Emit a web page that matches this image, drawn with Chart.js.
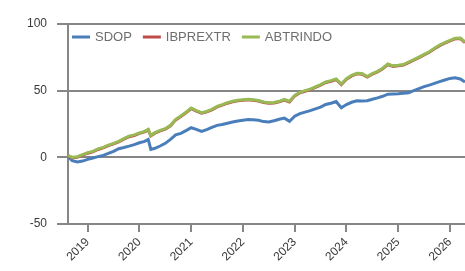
<!DOCTYPE html>
<html>
<head>
<meta charset="utf-8">
<script src="https://cdn.jsdelivr.net/npm/chart.js@4.4.1/dist/chart.umd.min.js"></script>
<style>
  body { margin: 0; background: #fff; }
  #chart { display: block; }
</style>
</head>
<body>
<canvas id="chart" width="465" height="271"></canvas>
<script>
// dates as fractional years
const dates = [2018.62, 2018.7, 2018.8, 2018.9,
  2019.0, 2019.1, 2019.2, 2019.3, 2019.4, 2019.5, 2019.6, 2019.7, 2019.8, 2019.9,
  2020.0, 2020.1, 2020.17, 2020.22, 2020.3, 2020.4, 2020.5, 2020.6, 2020.7, 2020.8, 2020.9,
  2021.0, 2021.1, 2021.2, 2021.3, 2021.4, 2021.5, 2021.6, 2021.7, 2021.8, 2021.9,
  2022.0, 2022.1, 2022.2, 2022.3, 2022.4, 2022.5, 2022.6, 2022.7, 2022.8, 2022.9,
  2023.0, 2023.1, 2023.2, 2023.3, 2023.4, 2023.5, 2023.6, 2023.7, 2023.8, 2023.9,
  2024.0, 2024.1, 2024.2, 2024.3, 2024.4, 2024.5, 2024.6, 2024.7, 2024.8, 2024.9,
  2025.0, 2025.1, 2025.2, 2025.3, 2025.4, 2025.5, 2025.6, 2025.7, 2025.8, 2025.9,
  2026.0, 2026.1, 2026.2, 2026.29];

const sdop = [0.5, -2.5, -3.5, -2.8,
  -1.5, -0.5, 0.5, 1.5, 3.0, 4.5, 6.5, 7.4, 8.4, 9.5,
  10.9, 12.0, 13.4, 6.0, 6.8, 8.5, 10.5, 13.5, 16.8, 18.0, 20.0,
  22.2, 21.0, 19.4, 20.8, 22.5, 24.0, 24.6, 25.6, 26.5, 27.2,
  27.8, 28.3, 28.2, 27.8, 26.8, 26.5, 27.4, 28.6, 29.4, 27.0,
  30.8, 32.8, 33.9, 35.0, 36.4, 37.6, 39.6, 40.6, 41.9, 37.2,
  39.6, 41.3, 42.4, 42.2, 42.4, 43.6, 44.6, 45.8, 47.4, 47.5,
  47.6, 48.0, 48.4, 50.0, 51.6, 53.0, 54.2, 55.5, 56.8, 58.0,
  59.2, 59.6, 58.8, 56.5];

const ibprextr = [1.1, -0.4, 0.1, 1.6,
  3.1, 4.1, 5.9, 7.1, 8.8, 10.1, 11.6, 13.6, 15.5, 16.4,
  18.0, 19.1, 20.6, 16.1, 18.1, 19.8, 21.1, 23.6, 28.1, 30.6, 33.4,
  36.5, 34.6, 33.1, 34.1, 35.6, 37.8, 39.1, 40.6, 41.6, 42.4,
  42.8, 43.1, 42.8, 42.2, 41.1, 40.6, 40.8, 41.6, 43.0, 41.6,
  46.1, 48.4, 49.6, 50.8, 52.4, 54.1, 56.1, 57.1, 58.4, 54.6,
  58.6, 61.1, 62.6, 62.4, 60.2, 62.4, 64.1, 66.4, 69.6, 68.2,
  68.6, 69.2, 71.1, 72.9, 74.8, 76.8, 78.8, 81.4, 83.8, 85.6,
  87.4, 88.9, 89.1, 86.1];

const abtrindo = [1.5, 0.0, 0.5, 2.0,
  3.5, 4.5, 6.3, 7.5, 9.2, 10.5, 12.0, 14.0, 15.9, 16.8,
  18.4, 19.5, 21.0, 16.5, 18.5, 20.2, 21.5, 24.0, 28.5, 31.0, 33.8,
  36.9, 35.0, 33.5, 34.5, 36.0, 38.2, 39.5, 41.0, 42.0, 42.8,
  43.2, 43.5, 43.2, 42.6, 41.5, 41.0, 41.2, 42.0, 43.4, 42.0,
  46.5, 48.8, 50.0, 51.2, 52.8, 54.5, 56.5, 57.5, 58.8, 55.0,
  59.0, 61.5, 63.0, 62.8, 60.6, 62.8, 64.5, 66.8, 70.0, 68.6,
  69.0, 69.6, 71.5, 73.3, 75.2, 77.2, 79.2, 81.8, 84.2, 86.0,
  87.8, 89.3, 89.5, 86.5];

const years = [2019, 2020, 2021, 2022, 2023, 2024, 2025, 2026];
const yTicks = [-50, 0, 50, 100];

const gridGray = '#868686';
const labelFont = { family: 'Liberation Sans, Arial, sans-serif', size: 12 };

function series(values) {
  return values.map((v, i) => ({ x: dates[i], y: v }));
}

// legend drawn inside the plot, top left
const insideLegend = {
  id: 'insideLegend',
  afterDraw(chart) {
    const ctx = chart.ctx;
    const area = chart.chartArea;
    ctx.save();
    ctx.font = '13px Liberation Sans, Arial, sans-serif';
    ctx.textBaseline = 'middle';
    let x = area.left + 4;
    const y = area.top + 13;
    chart.data.datasets.forEach(ds => {
      ctx.fillStyle = ds.borderColor;
      ctx.fillRect(x, y - 1.5, 18, 3);
      x += 23;
      ctx.fillStyle = '#6e6e6e';
      ctx.fillText(ds.label, x, y);
      x += ctx.measureText(ds.label).width + 11;
    });
    ctx.restore();
  }
};

new Chart(document.getElementById('chart'), {
  type: 'line',
  data: {
    datasets: [
      { label: 'SDOP', data: series(sdop), borderColor: '#4a7ebb', order: 2 },
      { label: 'IBPREXTR', data: series(ibprextr), borderColor: '#be4b48', order: 1 },
      { label: 'ABTRINDO', data: series(abtrindo), borderColor: '#98b954', order: 0 }
    ]
  },
  options: {
    responsive: false,
    animation: false,
    layout: { padding: { left: 0, top: 24, right: 0, bottom: 0 } },
    elements: {
      line: { borderWidth: 3, tension: 0 },
      point: { radius: 0 }
    },
    plugins: {
      legend: { display: false },
      tooltip: { enabled: false }
    },
    scales: {
      x: {
        type: 'linear',
        min: 2018.62,
        max: 2026.29,
        afterBuildTicks: s => { s.ticks = years.map(v => ({ value: v })); },
        afterFit: s => { s.height = 47; },
        grid: { drawOnChartArea: false, drawTicks: true, tickLength: 8, color: gridGray, lineWidth: 2 },
        border: { display: true, color: gridGray, width: 2 },
        ticks: {
          minRotation: 45,
          maxRotation: 45,
          padding: 3,
          color: '#3a3a3a',
          font: labelFont,
          callback: v => String(v)
        }
      },
      y: {
        min: -50,
        max: 100,
        afterBuildTicks: s => { s.ticks = yTicks.map(v => ({ value: v })); },
        afterFit: s => { s.width = 68; },
        grid: { color: gridGray, lineWidth: 2, tickLength: 11 },
        border: { display: true, color: gridGray, width: 2 },
        ticks: { padding: 10, color: '#3a3a3a', font: labelFont }
      }
    }
  },
  plugins: [insideLegend]
});
</script>
</body>
</html>
